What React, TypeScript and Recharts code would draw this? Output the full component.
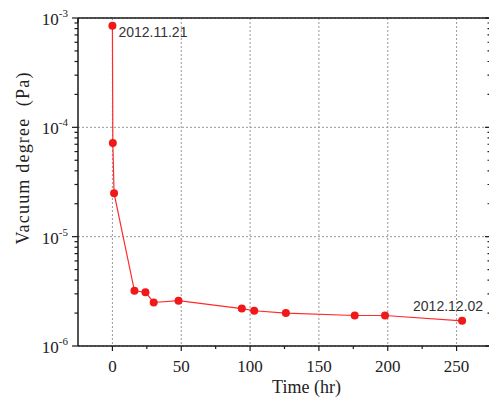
import React from 'react';
import {
  LineChart,
  Line,
  XAxis,
  YAxis,
  CartesianGrid,
  LabelList,
} from 'recharts';

// elapsed pumping time (hr) and measured vacuum (Pa)
const times = [0, 0.3, 1.2, 16, 24, 30, 48, 94, 103, 126, 176, 198, 254];
const pressures = [
  8.5e-4, 7.2e-5, 2.5e-5, 3.2e-6, 3.1e-6, 2.5e-6, 2.6e-6, 2.2e-6, 2.1e-6, 2.0e-6,
  1.9e-6, 1.9e-6, 1.7e-6,
];
const startNote = '2012.11.21';
const endNote = '2012.12.02';

const xTicks = [0, 50, 100, 150, 200, 250];
const xAllTicks = [0, 25, 50, 75, 100, 125, 150, 175, 200, 225, 250];
const yTicks = [1e-6, 1e-5, 1e-4, 1e-3];
const yAllTicks = [1e-6, 1e-5, 1e-4].flatMap((d) =>
  [1, 2, 3, 4, 5, 6, 7, 8, 9].map((m) => m * d)
).concat([1e-3]);

const data = times.map((t, i) => ({ time: t, vacuum: pressures[i] }));

const serif = '"Liberation Serif", "Times New Roman", serif';
const sans = '"Liberation Sans", Arial, sans-serif';
const axisColor = '#1a1a1a';

const isDecade = (v: number) => {
  const l = Math.log10(v);
  return Math.abs(l - Math.round(l)) < 1e-6;
};

// left axis: outward ticks, labels on decades
const LeftTick = ({ x, y, payload }: any) => {
  const major = isDecade(payload.value);
  const exp = Math.round(Math.log10(payload.value));
  return (
    <g>
      <line x1={x} x2={x - (major ? 6 : 3.5)} y1={y} y2={y} stroke={axisColor} strokeWidth={1.2} />
      {major && (
        <text x={x - 10} y={y + 7} textAnchor="end" fontFamily={serif} fontSize={17} fill="#222">
          <tspan>10</tspan>
          <tspan dy={-8} fontSize={11}>{exp}</tspan>
        </text>
      )}
    </g>
  );
};

// right axis: inward ticks only
const RightTick = ({ x, y, payload }: any) => {
  const major = isDecade(payload.value);
  return <line x1={x} x2={x - (major ? 6 : 3.5)} y1={y} y2={y} stroke={axisColor} strokeWidth={1.2} />;
};

const BottomTick = ({ x, y, payload }: any) => {
  const major = payload.value % 50 === 0;
  return (
    <g>
      <line x1={x} x2={x} y1={y} y2={y + (major ? 5 : 3)} stroke={axisColor} strokeWidth={1.2} />
      {major && (
        <text x={x} y={y + 26} textAnchor="middle" fontFamily={serif} fontSize={17} fill="#222">
          {payload.value}
        </text>
      )}
    </g>
  );
};

const TopTick = ({ x, y, payload }: any) => {
  const major = payload.value % 50 === 0;
  return <line x1={x} x2={x} y1={y} y2={y + (major ? 5 : 3)} stroke={axisColor} strokeWidth={1.2} />;
};

const renderNote = (props: any) => {
  const { x, y, index } = props;
  if (index === 0) {
    return (
      <text x={x + 6} y={y + 11} fontFamily={sans} fontSize={14} fill="#333">
        {startNote}
      </text>
    );
  }
  if (index === data.length - 1) {
    return (
      <text x={x - 14} y={y - 10} textAnchor="middle" fontFamily={sans} fontSize={14} fill="#333">
        {endNote}
      </text>
    );
  }
  return null;
};

const YTitle = ({ viewBox }: any) => {
  const cx = 23;
  const cy = viewBox.y + viewBox.height / 2 - 24;
  return (
    <text
      x={cx}
      y={cy}
      transform={`rotate(-90, ${cx}, ${cy})`}
      textAnchor="middle"
      dominantBaseline="central"
      fontFamily={serif}
      fontSize={18}
      letterSpacing={1.2}
      fill="#222"
      style={{ whiteSpace: 'pre' }}
    >
      Vacuum degree  (Pa)
    </text>
  );
};

const XTitle = ({ viewBox }: any) => (
  <text
    x={viewBox.x + viewBox.width / 2 + 22}
    y={393}
    textAnchor="middle"
    fontFamily={serif}
    fontSize={18}
    fill="#222"
  >
    Time (hr)
  </text>
);

const App = () => {
  return (
    <div
      style={{
        position: 'absolute',
        left: 0,
        top: 0,
        width: 489,
        height: 399,
        overflow: 'hidden',
        background: '#fff',
      }}
    >
      <LineChart
        width={495}
        height={399}
        data={data}
        margin={{ top: 18, right: 4, left: 77, bottom: 52 }}
      >
        <CartesianGrid
          stroke="#999"
          strokeDasharray="2 2"
          horizontalValues={yTicks}
          verticalValues={xTicks}
        />
        <XAxis
          dataKey="time"
          type="number"
          domain={[-25, 275]}
          allowDataOverflow
          ticks={xAllTicks}
          interval={0}
          height={1}
          tickSize={0}
          tickMargin={0}
          tickLine={false}
          tick={<BottomTick />}
          axisLine={{ stroke: axisColor, strokeWidth: 1.5 }}
          label={<XTitle />}
        />
        <XAxis
          xAxisId="top"
          orientation="top"
          mirror
          type="number"
          domain={[-25, 275]}
          allowDataOverflow
          ticks={xAllTicks}
          interval={0}
          height={1}
          tickSize={0}
          tickMargin={0}
          tickLine={false}
          tick={<TopTick />}
          axisLine={{ stroke: axisColor, strokeWidth: 1.5 }}
        />
        <YAxis
          scale="log"
          type="number"
          domain={[1e-6, 1e-3]}
          allowDataOverflow
          ticks={yAllTicks}
          interval={0}
          width={1}
          tickSize={0}
          tickMargin={0}
          tickLine={false}
          tick={<LeftTick />}
          axisLine={{ stroke: axisColor, strokeWidth: 1.5 }}
          label={<YTitle />}
        />
        <YAxis
          yAxisId="right"
          orientation="right"
          mirror
          scale="log"
          type="number"
          domain={[1e-6, 1e-3]}
          allowDataOverflow
          ticks={yAllTicks}
          interval={0}
          width={1}
          tickSize={0}
          tickMargin={0}
          tickLine={false}
          tick={<RightTick />}
          axisLine={{ stroke: axisColor, strokeWidth: 1.5 }}
        />
        <Line
          type="linear"
          dataKey="vacuum"
          stroke="#ff2a2a"
          strokeWidth={1.2}
          dot={{ r: 4, fill: '#f01818', stroke: 'none' }}
          activeDot={false}
          isAnimationActive={false}
        >
          <LabelList dataKey="vacuum" content={renderNote} />
        </Line>
      </LineChart>
    </div>
  );
};

export default App;
